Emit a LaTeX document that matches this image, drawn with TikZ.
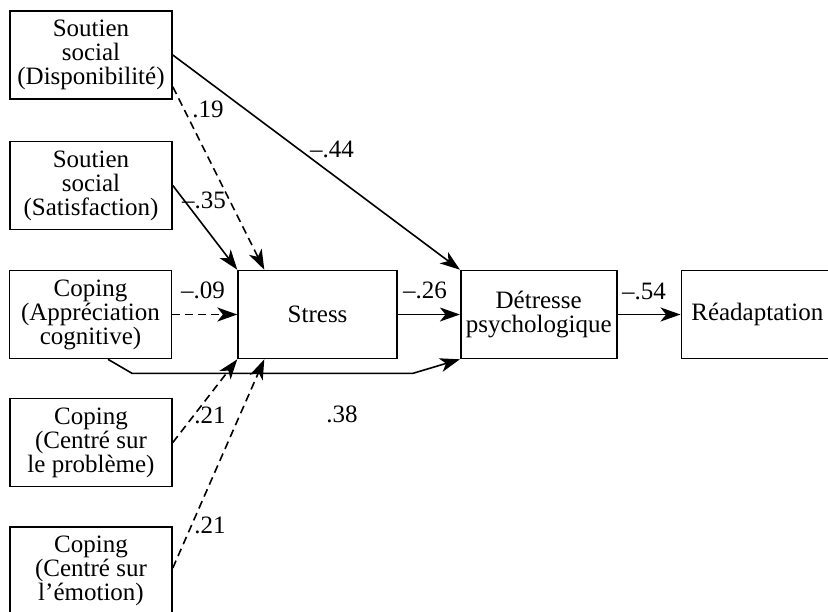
\documentclass[tikz,border=0pt]{standalone}
\usepackage{fontspec}
\setmainfont{Liberation Serif}
\usetikzlibrary{arrows.meta,positioning}

\begin{document}
\begin{tikzpicture}[x=0.5pt,y=-0.5pt,>={Stealth[length=10pt,width=7pt,inset=2.8pt]},
        line width=0.8pt,font=\fontsize{12.5}{12}\selectfont,
        var/.style={rectangle,draw=black,align=center,minimum width=81pt,minimum height=44pt,inner sep=1pt},
        link/.style={->},
        weak/.style={->,dash pattern=on 4pt off 2.5pt},
        weight/.style={inner sep=0pt}]
        \useasboundingbox (0,0) rectangle (828,611);
        % predicteurs
        \node[var] (disp)  at (91,55)      {Soutien\\social\\(Disponibilité)};
        \node[var] (satis) at (91,185.5)   {Soutien\\social\\(Satisfaction)};
        \node[var] (appr)  at (90.5,314.5) {Coping\\(Appréciation\\cognitive)};
        \node[var] (prob)  at (91,442.5)   {Coping\\(Centré sur\\le problème)};
        \node[var] (emot)  at (91,571)     {Coping\\(Centré sur\\l'émotion)};
        % chaine principale
        \node[var,minimum width=79.5pt] (stress)  [right=32.5pt of appr]  {Stress};
        \node[var,minimum width=78pt]   (detr)    [right=31pt of stress]  {Détresse\\psychologique};
        \node[var,minimum width=76pt]   (readapt) [right=31.5pt of detr]  {Réadaptation};
        \draw[link] (disp.east) -- (detr.north west);
        \draw[weak] ([yshift=6.5pt]disp.south east) -- ([xshift=13.5pt]stress.north west);
        \draw[link] (satis.east) -- (stress.north west);
        \draw[weak] (appr.east) -- (stress.west);
        \draw[link] (stress.east) -- (detr.west);
        \draw[link] (detr.east) -- (readapt.west);
        \draw[link] ([xshift=8.75pt]appr.south) -- ++(24,14) -- ++(281,0) -- (detr.south west);
        \draw[weak] (prob.east) -- (stress.south west);
        \draw[weak] ([yshift=1.5pt]emot.east) -- ([xshift=13.5pt]stress.south west);
        % coefficients
        \node[weight] (w19)  at (208,109) {.19};
        \node[weight] (w35)  at (204,200) {--.35};
        \node[weight] (w44)  at (332,149) {--.44};
        \node[weight] (w09)  at (203,290) {--.09};
        \node[weight] (w26)  at (425,290) {--.26};
        \node[weight] (w54)  at (644,291) {--.54};
        \node[weight] (w38)  at (342,414) {.38};
        \node[weight] (w21a) at (210,415) {.21};
        \node[weight] (w21b) at (210,525) {.21};
\end{tikzpicture}
\end{document}
